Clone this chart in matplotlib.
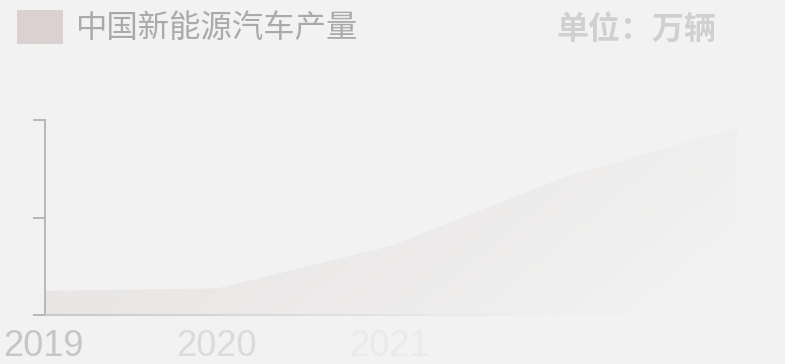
import matplotlib
matplotlib.use("Agg")
import matplotlib.pyplot as plt
import numpy as np
from matplotlib.patches import Rectangle
from matplotlib.collections import LineCollection
import matplotlib.colors as mcolors
from matplotlib import font_manager

plt.rcParams['font.family'] = ['Noto Sans CJK SC', 'DejaVu Sans']

years = ["2019", "2020", "2021", "2022", "2023"]
production = [124.2, 136.6, 354.5, 705.8, 958.7]
year_label_colors = ["#c6c6c6", "#dbdbdb", "#eaeaea", "#f2f2f2", "#f2f2f2"]
title = "中国新能源汽车产量"
unit = "单位：万辆"

W, H = 785, 364
fig = plt.figure(figsize=(W / 100, H / 100), dpi=100)
bg = "#f2f2f2"
fig.patch.set_facecolor(bg)

ax = fig.add_axes([45 / W, (H - 315) / H, 692 / W, 195 / H])
ax.set_facecolor("none")
x = np.arange(len(years))
ax.set_xlim(0, len(years) - 1)
ax.set_ylim(0, 1000)

# area with diagonal fade (top-left strong, bottom-right faint)
poly = ax.fill_between(x, production, 0, facecolor="none", edgecolor="none")
c_left = np.array(mcolors.to_rgb("#e7e3e2"))
c_bg = np.array(mcolors.to_rgb("#f1f1f1"))
nx, ny = 400, 120
u = np.linspace(0, 1, nx)[None, :]
v = np.linspace(0, 1, ny)[:, None]
f = (u * 692 + (1 - v) * 195 * 1.2) / (692 + 195 * 0.6)
f = np.clip(f, 0, 1) ** 1.2
img = c_left[None, None, :] * (1 - f[..., None]) + c_bg[None, None, :] * f[..., None]
im = ax.imshow(img, extent=[0, len(years) - 1, 0, 1000], aspect="auto",
               origin="lower", interpolation="bilinear", zorder=1)
path = poly.get_paths()[0]
im.set_clip_path(path, transform=ax.transData)

# spines
for s in ["top", "right", "bottom"]:
    ax.spines[s].set_visible(False)
ax.spines["left"].set_color("#b3b3b3")
ax.spines["left"].set_linewidth(1.3)
ax.set_yticks([0, 500, 1000])
ax.set_yticklabels([])
ax.tick_params(axis="y", length=9, width=1.3, color="#b3b3b3")
ax.set_xticks([])

# fading bottom axis line
xs = np.linspace(0, len(years) - 1, 200)
segs = [[(xs[i], 0), (xs[i + 1], 0)] for i in range(len(xs) - 1)]
c0 = np.array(mcolors.to_rgb("#c8c8c8"))
c1 = np.array(mcolors.to_rgb(bg))
cols = []
for i in range(len(xs) - 1):
    fr = min(1.0, xs[i] / 3.0)
    cols.append(c0 * (1 - fr) + c1 * fr)
lc = LineCollection(segs, colors=cols, linewidths=1.5, zorder=3, clip_on=False)
ax.add_collection(lc)

# year labels (narrow font if available)
names = {f.name for f in font_manager.fontManager.ttflist}
if "Liberation Sans Narrow" in names:
    yfam, ysize = ["Liberation Sans Narrow", "DejaVu Sans"], 29
else:
    yfam, ysize = ["Liberation Sans", "DejaVu Sans"], 26
for xi, lab, col in zip(x, years, year_label_colors):
    ax.text(xi - 0.008, -164, lab, ha="center", va="center", fontsize=ysize,
            color=col, family=yfam)

# legend
fig.patches.append(Rectangle((17 / W, 1 - 44 / H), 46 / W, 34 / H,
                             transform=fig.transFigure, facecolor="#dbd1d0",
                             edgecolor="none"))
fig.text(76 / W, 1 - 28 / H, title, ha="left", va="center", fontsize=22.6,
         color="#aaaaaa")
fig.text(636 / W, 1 - 30 / H, unit, ha="center", va="center", fontsize=23,
         color="#d0d0d0", fontweight="bold")

fig.savefig("out.png", dpi=100, facecolor=bg)
